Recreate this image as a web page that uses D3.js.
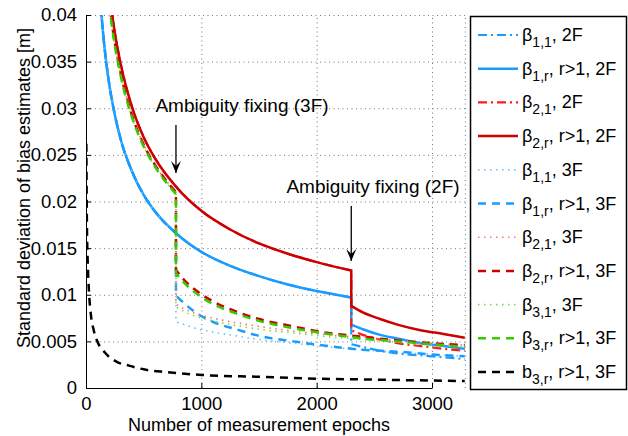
<!DOCTYPE html>
<html><head><meta charset="utf-8">
<script src="https://cdn.jsdelivr.net/npm/d3@7"></script>
<style>body{margin:0;background:#fff}svg{display:block;font-family:Arial,"Liberation Sans",sans-serif}</style>
</head><body><svg id="c" width="628" height="436"></svg>
<script>
// ---------- data ----------
const xTicks = [0, 1000, 2000, 3000];
const yTicks = [0, 0.005, 0.01, 0.015, 0.02, 0.025, 0.03, 0.035, 0.04];
const yTickLabels = ["0", "0.005", "0.01", "0.015", "0.02", "0.025", "0.03", "0.035", "0.04"];

// float part (before fixing)
const epBlueFloat = [120, 150, 200, 250, 300, 400, 500, 600, 780, 1000, 1250, 1500, 1750, 2000, 2300];
const valBlueFloat = [0.0423, 0.0378, 0.0327, 0.0293, 0.0267, 0.0232, 0.0207, 0.0189, 0.0166, 0.0146, 0.0131, 0.0120, 0.0111, 0.0104, 0.0097];
const epRedFloat = [200, 250, 300, 400, 500, 600, 780, 1000, 1250, 1500, 1750, 2000, 2300];
const valRedFloat = [0.0426, 0.0381, 0.0348, 0.0301, 0.0269, 0.0246, 0.0216, 0.0190, 0.0170, 0.0155, 0.0144, 0.0135, 0.0126];
const ep3FFloat = [200, 250, 300, 400, 500, 600, 780];
const val3FRedFloat = [0.0414, 0.0370, 0.0338, 0.0292, 0.0261, 0.0239, 0.0210];
const val3FGreenFloat = [0.0411, 0.0367, 0.0335, 0.0290, 0.0259, 0.0237, 0.0208];
const ep3FBlueFloat = [120, 150, 200, 250, 300, 400, 500, 600, 780];
const val3FBlueFloat = [0.0423, 0.0378, 0.0327, 0.0293, 0.0267, 0.0232, 0.0207, 0.0189, 0.0166];

// fixed part, 2F (after epoch 2300)
const ep2FFixed = [2300, 2400, 2550, 2700, 2900, 3100, 3285];
const valB11_2F = [0.0047, 0.0044, 0.0040, 0.0037, 0.0035, 0.0033, 0.0031];
const valB1r_2F = [0.0068, 0.0063, 0.0057, 0.0053, 0.0048, 0.0045, 0.0042];
const valB21_2F = [0.0062, 0.0057, 0.0052, 0.0048, 0.0045, 0.0042, 0.0040];
const valB2r_2F = [0.0088, 0.0081, 0.0074, 0.0068, 0.0062, 0.0058, 0.0054];

// fixed part, 3F (after epoch 780)
const ep3FFixed = [780, 850, 950, 1100, 1300, 1500, 1800, 2100, 2400, 2700, 3000, 3285];
const valB11_3F = [0.0071, 0.0068, 0.0064, 0.0060, 0.0056, 0.0052, 0.0048, 0.0044, 0.0041, 0.0038, 0.0036, 0.0034];
const valB1r_3F = [0.0099, 0.0091, 0.0081, 0.0071, 0.0063, 0.0056, 0.0050, 0.0045, 0.0041, 0.0039, 0.0036, 0.0034];
const valB21_3F = [0.0090, 0.0085, 0.0080, 0.0075, 0.0070, 0.0066, 0.0061, 0.0057, 0.0054, 0.0051, 0.0048, 0.0046];
const valB2r_3F = [0.01265, 0.0116, 0.0105, 0.0093, 0.0082, 0.0074, 0.0066, 0.0059, 0.0055, 0.0051, 0.0048, 0.0046];
const valB31_3F = [0.0087, 0.0082, 0.0077, 0.0072, 0.0067, 0.0063, 0.0059, 0.0055, 0.0052, 0.0049, 0.0046, 0.0044];
const valB3r_3F = [0.0123, 0.0113, 0.0102, 0.0090, 0.0080, 0.0072, 0.0064, 0.0058, 0.0053, 0.0050, 0.0047, 0.0044];

// b_{3,r}
const epBlack = [3, 8, 15, 26, 43, 67, 95, 164, 268, 372, 500, 700, 1000, 1500, 2000, 2500, 3000, 3285];
const valBlack = [0.0262, 0.0175, 0.0135, 0.0103, 0.0078, 0.0062, 0.0051, 0.0038, 0.0028, 0.0024, 0.0020, 0.0017, 0.0014, 0.0012, 0.0010, 0.0009, 0.0008, 0.00075];

const legendMain = ["β", "β", "β", "β", "β", "β", "β", "β", "β", "β", "b"];
const legendSub = ["1,1", "1,r", "2,1", "2,r", "1,1", "1,r", "2,1", "2,r", "3,1", "3,r", "3,r"];
const legendRest = [", 2F", ", r>1, 2F", ", 2F", ", r>1, 2F", ", 3F", ", r>1, 3F", ", 3F", ", r>1, 3F", ", 3F", ", r>1, 3F", ", r>1, 3F"];

// ---------- drawing ----------
const svg = d3.select("#c");
const x = d3.scaleLinear().domain([0, 3000]).range([86, 432]);
const y = d3.scaleLinear().domain([0, 0.04]).range([388, 15]);
const xEnd = x(3285);

const colors = {
  blue: "#1a9cff", blueLight: "#66bfff", red: "#ff1a1a", redDark: "#cc0000",
  redLight: "#ff7070", green: "#33cc00", greenLight: "#77dd44", black: "#000"
};
const DASH = "8,6", DOT = "1.5,4.5", DASHDOT = "9,4,2,4";

// grid
const grid = svg.append("g").attr("stroke", "#777").attr("stroke-width", 1).attr("stroke-dasharray", "1,3.5");
yTicks.forEach(t => { if (t > 0) grid.append("line").attr("x1", x(0)).attr("x2", xEnd).attr("y1", y(t) + 0.5).attr("y2", y(t) + 0.5); });
xTicks.forEach(t => { if (t > 0) grid.append("line").attr("x1", x(t) + 0.5).attr("x2", x(t) + 0.5).attr("y1", y(0)).attr("y2", y(0.04)); });
grid.append("line").attr("x1", xEnd + 0.5).attr("x2", xEnd + 0.5).attr("y1", y(0)).attr("y2", y(0.04));

// clip
svg.append("clipPath").attr("id", "clip").append("rect")
  .attr("x", x(0)).attr("y", y(0.04)).attr("width", xEnd - x(0)).attr("height", y(0) - y(0.04));

const line = d3.line().x(d => x(d[0])).y(d => y(d[1])).curve(d3.curveMonotoneX);
function zipPts(ep, val) { return ep.map((e, i) => [e, val[i]]); }
function pathOf(pieces) {
  return pieces.map((p, i) => { const s = line(p); return i === 0 ? s : "L" + s.slice(1); }).join("");
}

const series = [
  { pieces: [zipPts(epBlueFloat, valBlueFloat), zipPts(ep2FFixed, valB11_2F)], color: colors.blue, dash: DASHDOT, w: 2.2 },
  { pieces: [zipPts(epBlueFloat, valBlueFloat), zipPts(ep2FFixed, valB1r_2F)], color: colors.blue, dash: null, w: 2.5 },
  { pieces: [zipPts(epRedFloat, valRedFloat), zipPts(ep2FFixed, valB21_2F)], color: colors.red, dash: DASHDOT, w: 2.2 },
  { pieces: [zipPts(epRedFloat, valRedFloat), zipPts(ep2FFixed, valB2r_2F)], color: colors.redDark, dash: null, w: 2.5 },
  { pieces: [zipPts(ep3FBlueFloat, val3FBlueFloat), zipPts(ep3FFixed, valB11_3F)], color: colors.blueLight, dash: DOT, w: 1.6 },
  { pieces: [zipPts(ep3FBlueFloat, val3FBlueFloat), zipPts(ep3FFixed, valB1r_3F)], color: colors.blue, dash: DASH, w: 2.5 },
  { pieces: [zipPts(ep3FFloat, val3FRedFloat), zipPts(ep3FFixed, valB21_3F)], color: colors.redLight, dash: DOT, w: 1.6 },
  { pieces: [zipPts(ep3FFloat, val3FRedFloat), zipPts(ep3FFixed, valB2r_3F)], color: colors.redDark, dash: DASH, w: 2.5 },
  { pieces: [zipPts(ep3FFloat, val3FGreenFloat), zipPts(ep3FFixed, valB31_3F)], color: colors.greenLight, dash: DOT, w: 1.6 },
  { pieces: [zipPts(ep3FFloat, val3FGreenFloat), zipPts(ep3FFixed, valB3r_3F)], color: colors.green, dash: DASH, w: 2.5 },
  { pieces: [zipPts(epBlack, valBlack)], color: colors.black, dash: DASH, w: 2.5 }
];

const plot = svg.append("g").attr("clip-path", "url(#clip)");
series.forEach(s => {
  plot.append("path").attr("d", pathOf(s.pieces)).attr("fill", "none")
    .attr("stroke", s.color).attr("stroke-width", s.w)
    .attr("stroke-dasharray", s.dash);
});

// axes
const yAxis = d3.axisLeft(y).tickValues(yTicks).tickFormat((d, i) => yTickLabels[i]).tickSizeInner(-5).tickSizeOuter(0).tickPadding(9);
const gy = svg.append("g").attr("transform", `translate(${x(0)},0)`).call(yAxis);
const xAxis = d3.axisBottom(x).tickValues(xTicks).tickFormat(d3.format("d")).tickSizeInner(-5).tickSizeOuter(0).tickPadding(9);
const gx = svg.append("g").attr("transform", `translate(0,${y(0)})`).call(xAxis);
[gx, gy].forEach(g => {
  g.select(".domain").attr("stroke", "#000").attr("stroke-width", 1);
  g.selectAll(".tick line").attr("stroke", "#000");
  g.selectAll("text").attr("font-size", 18.5).attr("fill", "#000").attr("font-family", "Arial, 'Liberation Sans', sans-serif");
});

svg.append("text").attr("x", 259).attr("y", 431).attr("text-anchor", "middle")
  .attr("font-size", 18).text("Number of measurement epochs");
svg.append("text").attr("transform", "translate(30,188) rotate(-90)").attr("text-anchor", "middle")
  .attr("font-size", 18).text("Standard deviation of bias estimates [m]");

// annotations
svg.append("defs").append("marker").attr("id", "arr").attr("viewBox", "0 0 10 12")
  .attr("refX", 5).attr("refY", 12).attr("markerWidth", 10).attr("markerHeight", 12)
  .attr("markerUnits", "userSpaceOnUse").attr("orient", "0")
  .append("path").attr("d", "M0,0 L5,12 L10,0 L5,5 Z").attr("fill", "#000");
function annot(txt, tx, ty, ax, ay1, ay2) {
  svg.append("text").attr("x", tx).attr("y", ty).attr("text-anchor", "middle").attr("font-size", 19).text(txt);
  svg.append("line").attr("x1", ax).attr("x2", ax).attr("y1", ay1).attr("y2", ay2 - 1)
    .attr("stroke", "#000").attr("stroke-width", 1.3).attr("marker-end", "url(#arr)");
}
annot("Ambiguity fixing (3F)", 242, 112, x(780), 125, 174);
annot("Ambiguity fixing (2F)", 373, 193, x(2300), 206, 262);

// legend
const lg = svg.append("g");
lg.append("rect").attr("x", 470.5).attr("y", 16.5).attr("width", 156).attr("height", 373)
  .attr("fill", "#fff").attr("stroke", "#000").attr("stroke-width", 1.5);
series.forEach((s, i) => {
  const ly = 35 + i * 33.7;
  lg.append("line").attr("x1", 478).attr("x2", 518).attr("y1", ly).attr("y2", ly)
    .attr("stroke", s.color).attr("stroke-width", s.w).attr("stroke-dasharray", s.dash);
  const t = lg.append("text").attr("x", 522).attr("y", ly + 6).attr("font-size", 18);
  t.append("tspan").text(legendMain[i]);
  t.append("tspan").attr("dy", 6).attr("font-size", 14).text(legendSub[i]);
  t.append("tspan").attr("dy", -6).text(legendRest[i]);
});
</script></body></html>
